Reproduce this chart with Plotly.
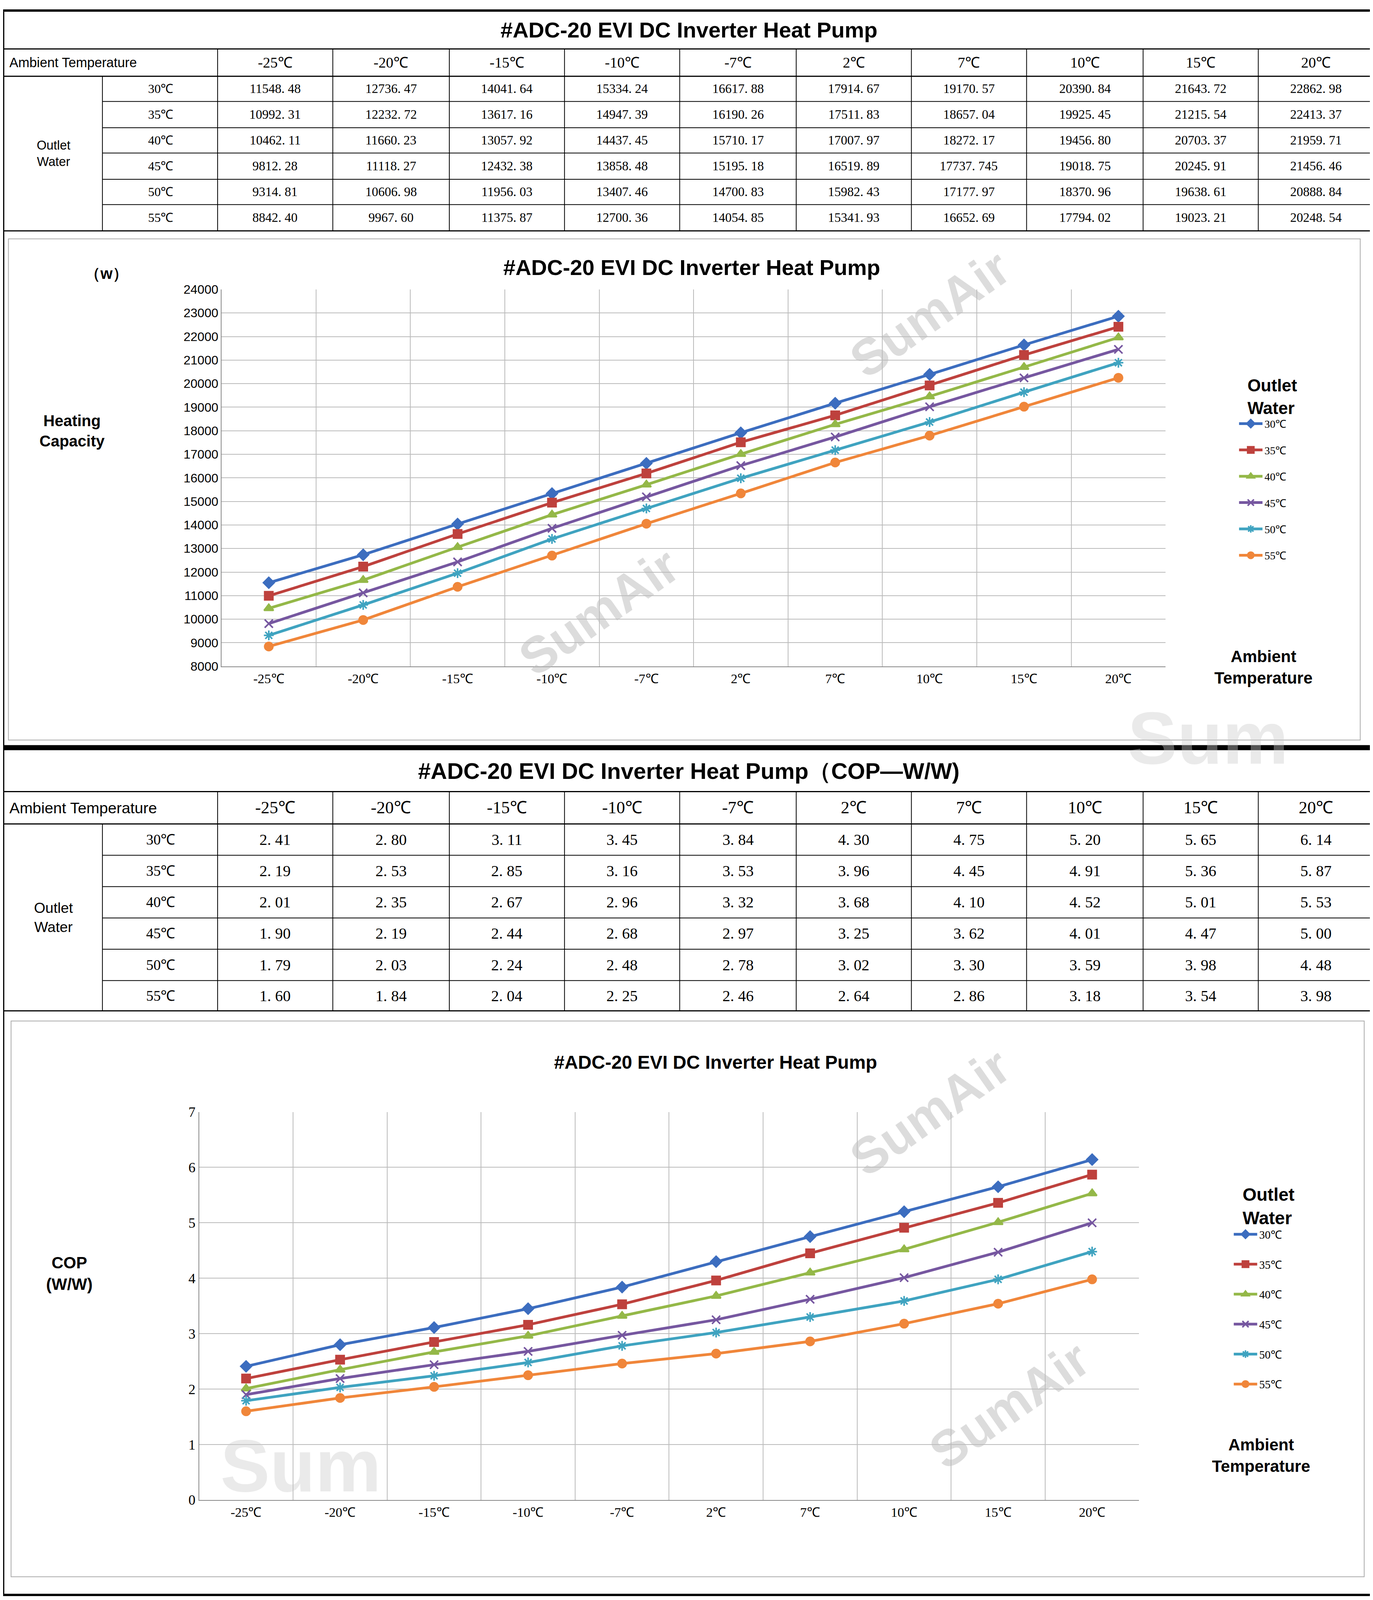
import plotly.graph_objects as go

temps = ["-25℃", "-20℃", "-15℃", "-10℃", "-7℃", "2℃", "7℃", "10℃", "15℃", "20℃"]
outlets = ["30℃", "35℃", "40℃", "45℃", "50℃", "55℃"]

cap_30 = [11548.48, 12736.47, 14041.64, 15334.24, 16617.88, 17914.67, 19170.57, 20390.84, 21643.72, 22862.98]
cap_35 = [10992.31, 12232.72, 13617.16, 14947.39, 16190.26, 17511.83, 18657.04, 19925.45, 21215.54, 22413.37]
cap_40 = [10462.11, 11660.23, 13057.92, 14437.45, 15710.17, 17007.97, 18272.17, 19456.80, 20703.37, 21959.71]
cap_45 = [9812.28, 11118.27, 12432.38, 13858.48, 15195.18, 16519.89, 17737.745, 19018.75, 20245.91, 21456.46]
cap_50 = [9314.81, 10606.98, 11956.03, 13407.46, 14700.83, 15982.43, 17177.97, 18370.96, 19638.61, 20888.84]
cap_55 = [8842.40, 9967.60, 11375.87, 12700.36, 14054.85, 15341.93, 16652.69, 17794.02, 19023.21, 20248.54]

cop_30 = [2.41, 2.80, 3.11, 3.45, 3.84, 4.30, 4.75, 5.20, 5.65, 6.14]
cop_35 = [2.19, 2.53, 2.85, 3.16, 3.53, 3.96, 4.45, 4.91, 5.36, 5.87]
cop_40 = [2.01, 2.35, 2.67, 2.96, 3.32, 3.68, 4.10, 4.52, 5.01, 5.53]
cop_45 = [1.90, 2.19, 2.44, 2.68, 2.97, 3.25, 3.62, 4.01, 4.47, 5.00]
cop_50 = [1.79, 2.03, 2.24, 2.48, 2.78, 3.02, 3.30, 3.59, 3.98, 4.48]
cop_55 = [1.60, 1.84, 2.04, 2.25, 2.46, 2.64, 2.86, 3.18, 3.54, 3.98]

cap = [cap_30, cap_35, cap_40, cap_45, cap_50, cap_55]
cop = [cop_30, cop_35, cop_40, cop_45, cop_50, cop_55]
colors = ["#3C6DBF", "#BE413D", "#94B848", "#7657A0", "#3FA3C0", "#F0863A"]
symbols = ["diamond", "square", "triangle-up", "x-thin-open", "asterisk-open", "circle"]

W, H = 1037.0, 1568.0
FW, FH = 3514, 4096
def X(p): return p / W
def Y(p): return 1 - p / H

SERIF = "Liberation Serif"
SANS = "Liberation Sans"

def fmt(v, dec=2):
    s = str(v)
    if "." not in s:
        s += "."
    a, b = s.split(".")
    b = b.ljust(dec, "0")
    return a + ". " + b

fig = go.Figure()
shapes = []
ann = []

def line(x0, y0, x1, y1, w=2, c="black"):
    shapes.append(dict(type="line", xref="paper", yref="paper", x0=X(x0), y0=Y(y0), x1=X(x1), y1=Y(y1),
                       line=dict(color=c, width=w)))

def text(x, y, s, size, font=SANS, bold=False, color="black", xanchor="center", angle=0, opacity=1):
    ann.append(dict(xref="paper", yref="paper", x=X(x), y=Y(y), text=("<b>%s</b>" % s) if bold else s,
                    showarrow=False, xanchor=xanchor, yanchor="middle", textangle=angle, opacity=opacity,
                    font=dict(family=font, size=size, color=color)))

cols = [0, 75, 162, 249, 337, 424, 511, 599, 686, 773, 861, 948, 1035]

def table(top, title, hdr_bot, row_bounds, data, fmtfun, title_size, hdr_size, val_size):
    text(518, (top + hdr_bot[0]) / 2, title, title_size, bold=True)
    line(0, hdr_bot[0], 1037, hdr_bot[0], 3)
    line(0, hdr_bot[1], 1037, hdr_bot[1], 3)
    text(4, (hdr_bot[0] + hdr_bot[1]) / 2, "Ambient Temperature", hdr_size * 0.9, xanchor="left")
    for j, t in enumerate(temps):
        xc = (cols[j + 2] + cols[j + 3]) / 2
        text(xc, (hdr_bot[0] + hdr_bot[1]) / 2, t, hdr_size, font=SERIF)
    for c in cols[2:-1]:
        line(c, hdr_bot[0], c, row_bounds[-1], 2)
    line(75, hdr_bot[1], 75, row_bounds[-1], 2)
    for rb in row_bounds[1:-1]:
        line(75, rb, 1037, rb, 2)
    line(0, row_bounds[-1], 1037, row_bounds[-1], 3)
    text(38, (row_bounds[0] + row_bounds[-1]) / 2, "Outlet<br>Water", hdr_size * 0.85)
    for i, o in enumerate(outlets):
        yc = (row_bounds[i] + row_bounds[i + 1]) / 2
        text(119, yc, o, hdr_size * 0.85, font=SERIF)
        for j in range(10):
            xc = (cols[j + 2] + cols[j + 3]) / 2
            text(xc, yc, fmtfun(data[i][j]), val_size, font=SERIF)

table(0, "#ADC-20 EVI DC Inverter Heat Pump", [38, 65], [65, 90, 116, 141, 167, 192, 218], cap,
      fmt, 56, 38, 33)
table(732, "#ADC-20 EVI DC Inverter Heat Pump（COP—W/W)", [773, 805], [805, 836, 867, 898, 929, 960, 990], cop,
      fmt, 58, 44, 40)

shapes.append(dict(type="rect", xref="paper", yref="paper", x0=X(4), y0=Y(722), x1=X(1025), y1=Y(226),
                   line=dict(color="#AAAAAA", width=2)))
shapes.append(dict(type="rect", xref="paper", yref="paper", x0=X(6), y0=Y(1550), x1=X(1028), y1=Y(1000),
                   line=dict(color="#AAAAAA", width=2)))
shapes.append(dict(type="rect", xref="paper", yref="paper", x0=0, y0=Y(732), x1=1, y1=Y(727),
                   fillcolor="black", line=dict(width=0)))
shapes.append(dict(type="rect", xref="paper", yref="paper", x0=0, y0=0, x1=1, y1=1,
                   line=dict(color="black", width=6)))

for (x, y, s, sz) in [(700, 300, "SumAir", 130), (450, 595, "SumAir", 130), (700, 1090, "SumAir", 130),
                      (760, 1380, "SumAir", 130)]:
    text(x, y, s, sz, bold=True, color="#BBBBBB", angle=-35, opacity=0.5)
for (x, y) in [(910, 720), (225, 1440)]:
    text(x, y, "Sum", 190, bold=True, color="#CCCCCC", opacity=0.4)

xs = list(range(10))
for i, o in enumerate(outlets):
    for k, (data, ax, leg) in enumerate([(cap, ("x", "y"), "legend"), (cop, ("x2", "y2"), "legend2")]):
        fig.add_trace(go.Scatter(x=xs, y=data[i], xaxis=ax[0], yaxis=ax[1], name=o, legend=leg,
                                 legendgroup=o + str(k), mode="lines+markers",
                                 line=dict(color=colors[i], width=7),
                                 marker=dict(symbol=symbols[i], size=21, color=colors[i],
                                             line=dict(color=colors[i], width=4))))

def xaxis_cfg(x0, x1, anchor):
    return dict(domain=[X(x0), X(x1)], range=[-0.5, 9.5], tickvals=xs, ticktext=temps, showgrid=False,
                zeroline=False, showline=True, linecolor="#888888", linewidth=2, anchor=anchor,
                tickfont=dict(family=SERIF, size=34, color="black"),
                minor=dict(tickvals=[v - 0.5 for v in range(11)], showgrid=True, gridcolor="#BBBBBB", gridwidth=2))

fig.update_layout(
    width=FW, height=FH, margin=dict(l=0, r=0, t=0, b=0),
    paper_bgcolor="white", plot_bgcolor="white", showlegend=True,
    xaxis=xaxis_cfg(165, 878, "y"),
    yaxis=dict(domain=[Y(649), Y(276)], range=[8000, 24000], dtick=1000, tickformat="d",
               gridcolor="#BBBBBB", gridwidth=2, anchor="x",
               showline=True, linecolor="#888888", linewidth=2, zeroline=False,
               tickfont=dict(family=SANS, size=32, color="black")),
    xaxis2=xaxis_cfg(148, 858, "y2"),
    yaxis2=dict(domain=[Y(1474), Y(1090)], range=[0, 7], dtick=1, gridcolor="#BBBBBB", gridwidth=2,
                anchor="x2", showline=True, linecolor="#888888", linewidth=2, zeroline=False,
                tickfont=dict(family=SERIF, size=36, color="black")),
    legend=dict(x=X(932), y=Y(355), xanchor="left", yanchor="top", traceorder="grouped", tracegroupgap=28,
                title=dict(text="<b>  Outlet<br>  Water</b>", font=dict(family=SANS, size=44, color="black")),
                font=dict(family=SERIF, size=28, color="black"), itemwidth=60),
    legend2=dict(x=X(928), y=Y(1155), xanchor="left", yanchor="top", traceorder="grouped", tracegroupgap=36,
                 title=dict(text="<b>  Outlet<br>  Water</b>", font=dict(family=SANS, size=46, color="black")),
                 font=dict(family=SERIF, size=29, color="black"), itemwidth=60),
    shapes=shapes,
)

text(520, 254, "#ADC-20 EVI DC Inverter Heat Pump", 56, bold=True)
text(78, 260, "（w）", 40, bold=True)
text(52, 416, "Heating<br>Capacity", 40, bold=True)
text(952, 650, "Ambient<br>Temperature", 42, bold=True)
text(538, 1041, "#ADC-20 EVI DC Inverter Heat Pump", 48, bold=True)
text(50, 1250, "COP<br>(W/W)", 42, bold=True)
text(950, 1430, "Ambient<br>Temperature", 42, bold=True)
fig.update_layout(annotations=ann)

fig.write_html("out.html")
